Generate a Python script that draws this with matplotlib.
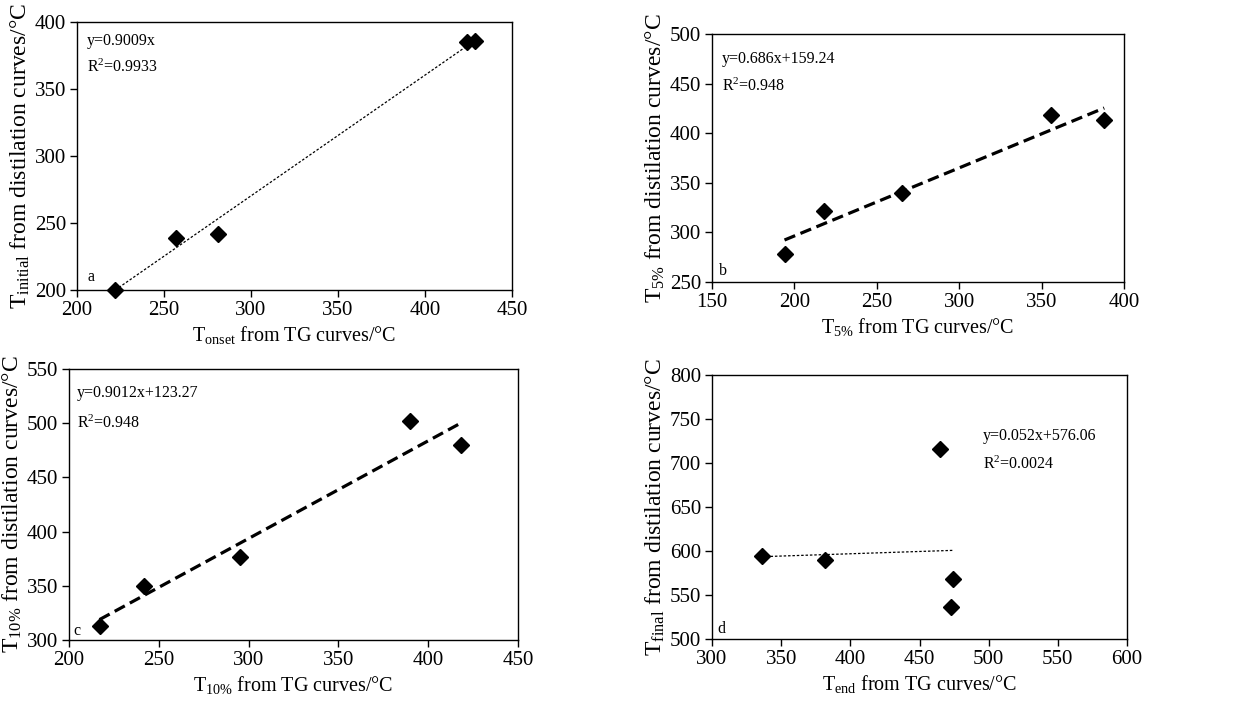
import matplotlib
matplotlib.use("Agg")
import matplotlib.pyplot as plt
import numpy as np

plt.rcParams['font.family'] = ['Liberation Serif', 'DejaVu Serif']
plt.rcParams['mathtext.fontset'] = 'custom'
plt.rcParams['mathtext.rm'] = 'Liberation Serif'
plt.rcParams['mathtext.it'] = 'Liberation Serif:italic'

# panel a: T_onset vs T_initial
a_x = [222, 257, 281, 424, 429]
a_y = [200, 239, 242, 385, 386]
# panel b: T5%
b_x = [194, 218, 265, 356, 388]
b_y = [278, 322, 340, 418, 413]
# panel c: T10%
c_x = [217, 242, 295, 390, 418]
c_y = [313, 350, 377, 502, 480]
# panel d: T_end vs T_final
d_x = [336, 382, 465, 474, 473]
d_y = [594, 590, 716, 568, 536]

# fit lines (slope, intercept) as printed on the chart
fits = {
    'a': (0.9009, 0.0),
    'b': (0.686, 159.24),
    'c': (0.9012, 123.27),
    'd': (0.052, 576.06),
}
eq_text = {
    'a': ('y=0.9009x', 'R$^{2}$=0.9933'),
    'b': ('y=0.686x+159.24', 'R$^{2}$=0.948'),
    'c': ('y=0.9012x+123.27', 'R$^{2}$=0.948'),
    'd': ('y=0.052x+576.06', 'R$^{2}$=0.0024'),
}

W, H = 1239, 702
fig = plt.figure(figsize=(W / 100, H / 100), dpi=100)


def box(l, t, r, b):
    return [l / W, 1 - b / H, (r - l) / W, (b - t) / H]


panels = [
    dict(key='a', x=a_x, y=a_y, rect=box(77, 22, 512, 290),
         xlim=(200, 450), ylim=(200, 400), xt=np.arange(200, 451, 50), yt=np.arange(200, 401, 50),
         xlabel='T$_{\\mathrm{onset}}$ from TG curves/°C',
         ylabel='T$_{\\mathrm{initial}}$ from distilation curves/°C',
         ls=dict(lw=0.9, dashes=(2, 1.5)), eqpos=(0.023, 0.93, 0.83), lab=(0.023, 0.05)),
    dict(key='b', x=b_x, y=b_y, rect=box(712, 34, 1124, 282),
         xlim=(150, 400), ylim=(250, 500), xt=np.arange(150, 401, 50), yt=np.arange(250, 501, 50),
         xlabel='T$_{5\\%}$ from TG curves/°C',
         ylabel='T$_{5\\%}$ from distilation curves/°C',
         ls=dict(lw=2.3, dashes=(3.6, 1.8)), eqpos=(0.024, 0.90, 0.79), lab=(0.017, 0.045)),
    dict(key='c', x=c_x, y=c_y, rect=box(69, 369, 518, 640),
         xlim=(200, 450), ylim=(300, 550), xt=np.arange(200, 451, 50), yt=np.arange(300, 551, 50),
         xlabel='T$_{10\\%}$ from TG curves/°C',
         ylabel='T$_{10\\%}$ from distilation curves/°C',
         ls=dict(lw=2.3, dashes=(3.6, 1.8)), eqpos=(0.018, 0.91, 0.80), lab=(0.01, 0.035)),
    dict(key='d', x=d_x, y=d_y, rect=box(712, 375, 1127, 639),
         xlim=(300, 600), ylim=(500, 800), xt=np.arange(300, 601, 50), yt=np.arange(500, 801, 50),
         xlabel='T$_{\\mathrm{end}}$ from TG curves/°C',
         ylabel='T$_{\\mathrm{final}}$ from distilation curves/°C',
         ls=dict(lw=0.9, dashes=(2, 1.5)), eqpos=(0.653, 0.77, 0.66), lab=(0.012, 0.038)),
]

for p in panels:
    ax = fig.add_axes(p['rect'])
    k, b0 = fits[p['key']]
    xs = np.array([min(p['x']), max(p['x'])])
    ax.plot(xs, k * xs + b0, color='black', **p['ls'])
    ax.plot(p['x'], p['y'], linestyle='None', marker='D', color='black', ms=8.5, clip_on=False)
    ax.set_xlim(*p['xlim'])
    ax.set_ylim(*p['ylim'])
    ax.set_xticks(p['xt'])
    ax.set_yticks(p['yt'])
    ax.tick_params(direction='out', length=5, width=1, labelsize=15, pad=3)
    for s in ax.spines.values():
        s.set_linewidth(1.0)
    ax.set_xlabel(p['xlabel'], fontsize=14.5, labelpad=3)
    ax.set_ylabel(p['ylabel'], fontsize=17, labelpad=2)
    tx, ty1, ty2 = p['eqpos']
    l1, l2 = eq_text[p['key']]
    ax.text(tx, ty1, l1, transform=ax.transAxes, fontsize=11.5, va='center', ha='left')
    ax.text(tx, ty2, l2, transform=ax.transAxes, fontsize=11.5, va='center', ha='left')
    ax.text(p['lab'][0], p['lab'][1], p['key'], transform=ax.transAxes, fontsize=11.5,
            va='center', ha='left')

fig.savefig('out.png', dpi=100)
